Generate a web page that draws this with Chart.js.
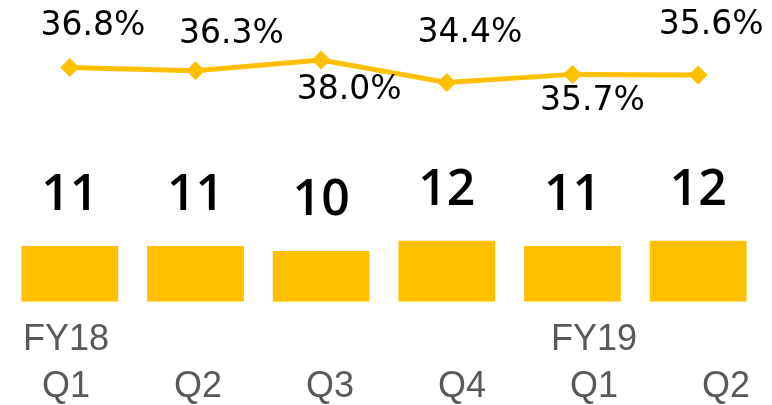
<!DOCTYPE html>
<html>
<head>
<meta charset="utf-8">
<script src="https://cdn.jsdelivr.net/npm/chart.js@4/dist/chart.umd.min.js"></script>
<style>
  body { margin: 0; background: #fff; }
  #wrap { width: 772px; height: 405px; }
</style>
</head>
<body>
<div id="wrap"><canvas id="chart"></canvas></div>
<script>
// data
const quarters = [['FY18', 'Q1'], ['', 'Q2'], ['', 'Q3'], ['', 'Q4'], ['FY19', 'Q1'], ['', 'Q2']];
const barValues = [11, 11, 10, 12, 11, 12];
const marginPct = [36.8, 36.3, 38.0, 34.4, 35.7, 35.6];

// where each % label sits relative to its point (dx, dy of text centre)
const pctLabelOffsets = [[23, -41], [36, -36], [28, 30], [23, -49], [20, 27], [13, -50]];

const gold = '#FFC000';

const labelPlugin = {
    id: 'valueLabels',
    afterDatasetsDraw(chart) {
        const ctx = chart.ctx;
        ctx.save();

        // bar numbers
        const bars = chart.getDatasetMeta(1).data;
        ctx.fillStyle = '#000';
        ctx.font = '600 50px "Open Sans"';
        ctx.textAlign = 'center';
        ctx.textBaseline = 'alphabetic';
        bars.forEach((bar, i) => {
            ctx.fillText(String(barValues[i]), bar.x, bar.y - 36);
        });

        // percentages
        const pts = chart.getDatasetMeta(0).data;
        ctx.font = '33px "DejaVu Sans"';
        ctx.textBaseline = 'middle';
        pts.forEach((p, i) => {
            const off = pctLabelOffsets[i];
            ctx.fillText(marginPct[i].toFixed(1) + '%', p.x + off[0], p.y + off[1]);
        });
        ctx.restore();
    }
};

new Chart(document.getElementById('chart'), {
    type: 'bar',
    data: {
        labels: quarters,
        datasets: [{
            type: 'line',
            data: marginPct,
            yAxisID: 'yPct',
            borderColor: gold,
            backgroundColor: gold,
            borderWidth: 5,
            pointStyle: 'rectRot',
            pointRadius: 9,
            pointBorderWidth: 1,
            tension: 0
        }, {
            type: 'bar',
            data: barValues,
            yAxisID: 'y',
            backgroundColor: gold,
            barPercentage: 0.77,
            categoryPercentage: 1
        }]
    },
    options: {
        responsive: true,
        maintainAspectRatio: false,
        animation: false,
        layout: { autoPadding: false, padding: { left: 7, right: 11, top: 0, bottom: 0 } },
        plugins: {
            legend: { display: false },
            tooltip: { enabled: false }
        },
        scales: {
            x: { display: false },
            // the quarter labels in the picture sit on a wider spacing than the bars
            xLabels: {
                type: 'linear',
                position: 'bottom',
                offset: false,
                min: -0.447,
                max: 5.265,
                grid: { display: false, drawTicks: false, offset: false },
                border: { display: false },
                afterFit(scale) { scale.height = 103.3; },
                afterBuildTicks(scale) { scale.ticks = quarters.map((q, i) => ({ value: i })); },
                ticks: {
                    color: '#595959',
                    padding: 15,
                    maxRotation: 0,
                    autoSkip: false,
                    callback: (v, i) => quarters[i],
                    font: { family: 'Liberation Sans', size: 36, lineHeight: 1.3 }
                }
            },
            y: { display: false, min: 0, max: 59.5 },
            yPct: { display: false, min: -0.67, max: 47.6 }
        }
    },
    plugins: [labelPlugin]
});
</script>
</body>
</html>
